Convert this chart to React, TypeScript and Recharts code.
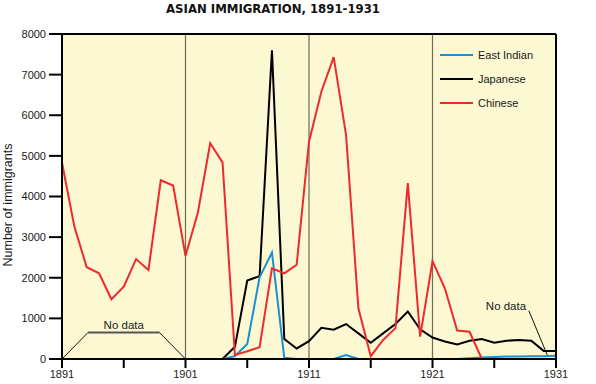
import { LineChart, Line, XAxis, YAxis, CartesianGrid, ReferenceLine, ReferenceDot } from 'recharts';

const YEARS = [
  1891, 1892, 1893, 1894, 1895, 1896, 1897, 1898, 1899, 1900,
  1901, 1902, 1903, 1904, 1905, 1906, 1907, 1908, 1909, 1910,
  1911, 1912, 1913, 1914, 1915, 1916, 1917, 1918, 1919, 1920,
  1921, 1922, 1923, 1924, 1925, 1926, 1927, 1928, 1929, 1930,
  1931,
];

const EAST_INDIAN = [
  null, null, null, null, null, null, null, null, null, null,
  0, 0, 0, 0, 70, 370, 2010, 2620, 30, 0,
  0, 0, 0, 100, 0, 0, 0, 0, 0, 0,
  0, 0, 0, 20, 40, 50, 60, 60, 70, 70,
  80,
];

const JAPANESE = [
  null, null, null, null, null, null, null, null, null, null,
  0, 0, 0, 0, 300, 1930, 2040, 7600, 490, 260,
  440, 770, 720, 860, 630, 400, 630, 860, 1170, 730,
  530, 430, 360, 450, 490, 400, 450, 470, 450, 200,
  200,
];

const CHINESE = [
  4830, 3260, 2260, 2110, 1470, 1780, 2460, 2190, 4400, 4270,
  2540, 3600, 5310, 4840, 100, 190, 290, 2230, 2110, 2320,
  5350, 6580, 7430, 5520, 1250, 70, 470, 760, 4330, 550,
  2410, 1740, 700, 670, 0, 0, 0, 0, 0, 0,
  null,
];

const X_TICKS = [1891, 1896, 1901, 1906, 1911, 1916, 1921, 1926, 1931];
const X_LABELED = [1891, 1901, 1911, 1921, 1931];
const Y_TICKS = [0, 1000, 2000, 3000, 4000, 5000, 6000, 7000, 8000];
const DECADE_LINES = [1901, 1911, 1921];

const SERIES = [
  { key: 'eastIndian', label: 'East Indian', color: '#1b8fd4' },
  { key: 'japanese', label: 'Japanese', color: '#000000' },
  { key: 'chinese', label: 'Chinese', color: '#ee2a2f' },
];

// drawn back to front: black, blue, red on top
const DRAW_ORDER = ['japanese', 'eastIndian', 'chinese'];

const FONT = '"Liberation Sans", Arial, sans-serif';
const tickStyle = { fontSize: 11, fill: '#1a1a1a', fontFamily: FONT };

const data = YEARS.map((year, i) => ({
  year,
  eastIndian: EAST_INDIAN[i],
  japanese: JAPANESE[i],
  chinese: CHINESE[i],
}));

export default function App() {
  return (
    <div style={{ position: 'absolute', left: 0, top: 0, width: 596, height: 384, fontFamily: FONT, background: '#fff' }}>
      <div
        style={{
          position: 'absolute',
          left: 273,
          top: 1,
          transform: 'translateX(-50%)',
          whiteSpace: 'nowrap',
          fontFamily: '"DejaVu Sans Condensed", "DejaVu Sans", sans-serif',
          fontWeight: 'bold',
          fontSize: 13,
          color: '#111',
        }}
      >
        ASIAN IMMIGRATION, 1891-1931
      </div>

      <LineChart width={596} height={384} data={data} margin={{ top: 34, right: 0, bottom: 0, left: 0 }}>
        <CartesianGrid yAxisId="left" fill="#fcf8d2" horizontal={false} vertical={false} />
        <XAxis
          dataKey="year"
          type="number"
          domain={[1891, 1931]}
          ticks={X_TICKS}
          tickFormatter={(v: number) => (X_LABELED.includes(v) ? String(v) : '')}
          height={25}
          tickSize={9}
          tickMargin={2}
          tick={tickStyle}
          axisLine={{ stroke: '#000', strokeWidth: 2 }}
          tickLine={{ stroke: '#000', strokeWidth: 2 }}
        />
        <YAxis
          yAxisId="left"
          width={62}
          domain={[0, 8000]}
          ticks={Y_TICKS}
          tickSize={13}
          tickMargin={3}
          tick={tickStyle}
          axisLine={{ stroke: '#000', strokeWidth: 2 }}
          tickLine={{ stroke: '#000', strokeWidth: 2 }}
          label={{
            content: () => (
              <text
                x={12}
                y={205}
                transform="rotate(-90, 12, 205)"
                textAnchor="middle"
                fontSize={12.5}
                fill="#1a1a1a"
                fontFamily={FONT}
              >
                Number of immigrants
              </text>
            ),
          }}
        />
        <YAxis
          yAxisId="right"
          orientation="right"
          width={40}
          domain={[0, 8000]}
          ticks={Y_TICKS}
          tickSize={11}
          tickMargin={3}
          tick={tickStyle}
          axisLine={{ stroke: '#000', strokeWidth: 2 }}
          tickLine={{ stroke: '#000', strokeWidth: 2 }}
        />

        {DECADE_LINES.map((yr) => (
          <ReferenceLine key={yr} yAxisId="left" x={yr} stroke="#6f6b5a" strokeWidth={1.2} />
        ))}
        <ReferenceLine yAxisId="left" y={8000} stroke="#000" strokeWidth={2} />

        {/* "No data" bracket, 1891-1901 */}
        <ReferenceLine yAxisId="left" segment={[{ x: 1891, y: 0 }, { x: 1893.1, y: 650 }]} stroke="#111" strokeWidth={1} />
        <ReferenceLine
          yAxisId="left"
          segment={[{ x: 1893.1, y: 650 }, { x: 1898.9, y: 650 }]}
          stroke="#555"
          strokeWidth={2}
          label={{ value: 'No data', position: 'top', offset: 4, fontSize: 11.5, fill: '#1a1a1a' }}
        />
        <ReferenceLine yAxisId="left" segment={[{ x: 1898.9, y: 650 }, { x: 1901, y: 0 }]} stroke="#111" strokeWidth={1} />

        {/* "No data" pointer, 1930-31 */}
        <ReferenceLine yAxisId="left" segment={[{ x: 1928.8, y: 1190 }, { x: 1930.35, y: 55 }]} stroke="#111" strokeWidth={1} />
        <ReferenceDot
          yAxisId="left"
          x={1926.95}
          y={1080}
          r={0}
          fill="none"
          stroke="none"
          label={{ value: 'No data', position: 'top', offset: 5, fontSize: 11.5, fill: '#1a1a1a' }}
        />

        {DRAW_ORDER.map((key) => {
          const s = SERIES.find((x) => x.key === key)!;
          return (
            <Line
              key={key}
              yAxisId="left"
              type="linear"
              dataKey={key}
              name={s.label}
              stroke={s.color}
              strokeWidth={2}
              dot={false}
              activeDot={false}
              isAnimationActive={false}
            />
          );
        })}
      </LineChart>

      {/* Legend */}
      <div style={{ position: 'absolute', left: 440, top: 43 }}>
        {SERIES.map((s) => (
          <div key={s.key} style={{ display: 'flex', alignItems: 'center', height: 24, fontSize: 11, color: '#1a1a1a' }}>
            <span style={{ display: 'inline-block', width: 33, height: 2, background: s.color, marginRight: 5 }} />
            {s.label}
          </div>
        ))}
      </div>
    </div>
  );
}
